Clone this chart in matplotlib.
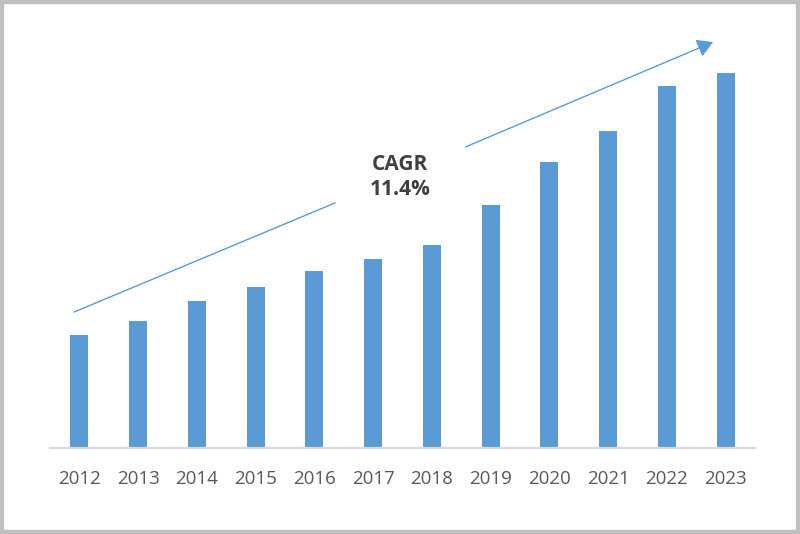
import matplotlib.pyplot as plt
from matplotlib.patches import Rectangle

years = ['2012', '2013', '2014', '2015', '2016', '2017',
         '2018', '2019', '2020', '2021', '2022', '2023']
market = [113, 127, 147, 161, 177, 189, 203, 243, 286, 317, 362, 375]
cagr_label = 'CAGR\n11.4%'

plt.rcParams['font.family'] = ['Open Sans', 'DejaVu Sans']

fig = plt.figure(figsize=(8, 5.34), dpi=100)
ax = fig.add_axes([50 / 800, 86 / 534, 705 / 800, 428 / 534])

x = range(len(years))
ax.bar(x, market, width=0.31, color='#5b9bd5', zorder=2)
ax.set_xlim(-0.5, len(years) - 0.5)
ax.set_ylim(0, 428)
ax.set_xticks(list(x))
ax.set_xticklabels(years, fontsize=13.5, color='#595959')
ax.tick_params(axis='x', length=0, pad=16)
ax.set_yticks([])
for s in ['top', 'right', 'left']:
    ax.spines[s].set_visible(False)
ax.spines['bottom'].set_color('#d9d9d9')
ax.spines['bottom'].set_linewidth(1.6)

# CAGR trend arrow, broken around the label
ax.plot([-0.09, 4.35], [136, 245], color='#5b9bd5', lw=1, clip_on=False)
ax.annotate('', xy=(10.83, 407), xytext=(6.53, 300),
            arrowprops=dict(arrowstyle='-|>,head_length=0.6,head_width=0.35',
                            color='#5b9bd5', lw=1, mutation_scale=16),
            annotation_clip=False)
ax.text(5.46, 271, cagr_label, ha='center', va='center', fontsize=15,
        fontweight='bold', color='#404040', linespacing=1.3)

fig.patches.append(Rectangle((0, 0), 1, 1, transform=fig.transFigure,
                             fill=False, edgecolor='#bfbfbf', lw=6))

fig.savefig('out.png', dpi=100)
